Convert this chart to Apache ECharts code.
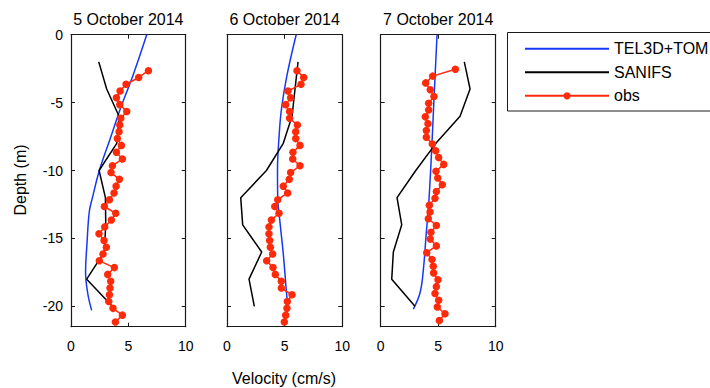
<!DOCTYPE html>
<html><head><meta charset="utf-8">
<script src="https://cdn.jsdelivr.net/npm/echarts@6/dist/echarts.min.js"></script>
<style>html,body{margin:0;padding:0;background:#fff}#c{width:710px;height:388px}</style>
</head><body><div id="c"></div>
<script>
const panelTitles = ['5 October 2014', '6 October 2014', '7 October 2014'];
const seriesNames = ['TEL3D+TOM', 'SANIFS', 'obs'];
const xTicks = [0, 5, 10];
const yTicks = [0, -5, -10, -15, -20];

// TEL3D+TOM model profiles
const telDepth1 = [0, -3, -5.5, -7.7, -10, -12, -13, -15.3, -17.5, -19, -20.3];
const telVel1   = [6.6, 5.4, 4.28, 3.4, 2.47, 1.87, 1.6, 1.4, 1.27, 1.45, 1.8];
const telDepth2 = [0, -3, -5.5, -7.7, -10, -12, -14, -16.3, -18.8, -20.3];
const telVel2   = [6.0, 5.2, 4.72, 4.5, 4.38, 4.4, 4.62, 4.9, 5.14, 5.3];
const telDepth3 = [0, -4.8, -8.5, -12.1, -14.85, -17.3, -19, -20.2];
const telVel3   = [4.9, 4.63, 4.43, 4.2, 3.94, 3.71, 3.42, 2.84];

// SANIFS model profiles
const sanDepth = [-2, -4, -6, -8, -10, -12, -14, -16, -18, -20];
const sanVel1  = [2.42, 3.11, 4.19, 3.99, 2.45, 3.0, 3.03, 2.9, 1.37, 3.6];
const sanVel2  = [6.16, 5.9, 5.64, 4.88, 3.42, 1.19, 1.36, 3.01, 1.91, 2.37];
const sanVel3  = [7.27, 7.77, 6.9, 4.8, 3.05, 1.42, 1.83, 1.1, 0.96, 2.98];

// Observations
const obsDepth12 = [-2.65,-3.15,-3.65,-4.15,-4.65,-5.15,-5.65,-6.15,-6.65,-7.15,-7.65,-8.15,-8.65,-9.15,-9.65,-10.15,-10.65,-11.15,-11.65,-12.15,-12.65,-13.15,-13.65,-14.15,-14.65,-15.15,-15.65,-16.15,-16.65,-17.15,-17.65,-18.15,-18.65,-19.15,-19.65,-20.15,-20.65,-21.15];
const obsDepth3 = [-2.55,-3.05,-3.55,-4.05,-4.55,-5.05,-5.55,-6.05,-6.55,-7.05,-7.55,-8.05,-8.55,-9.05,-9.55,-10.05,-10.55,-11.05,-11.55,-12.05,-12.55,-13.05,-13.55,-14.05,-14.55,-15.05,-15.55,-16.05,-16.55,-17.05,-17.55,-18.05,-18.55,-19.05,-19.55,-20.05,-20.55,-21.05];
const obsVel1 = [6.75,5.9,4.8,4.28,3.96,4.25,4.86,4.34,4.25,4.19,4.04,4.39,3.96,4.48,3.61,3.49,4.22,3.93,3.75,3.35,2.91,3.9,3.52,2.94,2.44,2.88,3.08,2.79,2.47,3.78,3.2,3.46,3.4,3.35,3.29,3.66,4.48,3.87];
const obsVel2 = [6.07,6.65,6.42,5.29,5.52,5.09,5.43,5.43,6.1,5.96,5.96,6.33,5.72,5.7,6.33,5.52,5.4,4.88,5.26,4.4,4.14,4.51,3.85,3.64,3.64,3.7,3.76,3.96,3.44,3.99,4.19,4.71,4.71,5.64,5.23,5.2,5.09,4.97];
const obsVel3 = [6.49,4.52,3.91,4.31,4.63,4.17,4.17,3.88,4.11,3.97,3.97,4.49,4.78,5.04,5.48,4.81,4.96,5.36,4.84,4.72,4.23,4.29,4.14,4.84,4.37,4.31,4.84,4.0,4.46,4.57,4.6,4.98,4.84,4.72,5.04,4.92,5.59,5.1];

const FONT = 'Liberation Sans, Arial, sans-serif';
const colors = ['#1638f5', '#000000', '#ff2a0a'];
const pair = (xs, ds) => xs.map((v, i) => [v, ds[i]]);

const panels = [
  {left: 71, width: 114.7, tel: pair(telVel1, telDepth1), san: pair(sanVel1, sanDepth), obs: pair(obsVel1, obsDepth12)},
  {left: 227, width: 115.3, tel: pair(telVel2, telDepth2), san: pair(sanVel2, sanDepth), obs: pair(obsVel2, obsDepth12)},
  {left: 380.7, width: 115, tel: pair(telVel3, telDepth3), san: pair(sanVel3, sanDepth), obs: pair(obsVel3, obsDepth3)}
];

const grid = [], xAxis = [], yAxis = [], series = [], graphic = [];
const axisLine = {show: true, onZero: false, lineStyle: {color: '#1a1a1a', width: 1.2}};
panels.forEach((p, k) => {
  grid.push({left: p.left, width: p.width, top: 34.7, height: 292});
  const xb = {gridIndex: k, type: 'value', min: 0, max: 10, interval: 5,
    axisLine, splitLine: {show: false},
    axisTick: {show: true, inside: true, length: 4, lineStyle: {color: '#1a1a1a'}},
    axisLabel: {show: true, margin: 12, fontSize: 14, color: '#000', fontFamily: FONT}};
  xAxis.push(xb);
  xAxis.push(Object.assign({}, xb, {position: 'top', axisLabel: {show: false}}));
  const yb = {gridIndex: k, type: 'value', min: -21.5, max: 0,
    axisLine, splitLine: {show: false},
    axisTick: {show: true, inside: true, length: 4, customValues: yTicks, lineStyle: {color: '#1a1a1a'}},
    axisLabel: {show: k === 0, customValues: yTicks, margin: 8, fontSize: 14, color: '#000', fontFamily: FONT}};
  yAxis.push(yb);
  yAxis.push(Object.assign({}, yb, {position: 'right', axisLabel: {show: false, customValues: yTicks}}));
  const xi = 2 * k, yi = 2 * k;
  series.push({name: seriesNames[0], type: 'line', xAxisIndex: xi, yAxisIndex: yi, data: p.tel,
    smooth: 0.4, symbol: 'none', lineStyle: {color: colors[0], width: 1.5}, itemStyle: {color: colors[0]}, z: 2});
  series.push({name: seriesNames[1], type: 'line', xAxisIndex: xi, yAxisIndex: yi, data: p.san,
    symbol: 'none', lineStyle: {color: colors[1], width: 1.5}, itemStyle: {color: colors[1]}, z: 3});
  series.push({name: seriesNames[2], type: 'line', xAxisIndex: xi, yAxisIndex: yi, data: p.obs,
    symbol: 'circle', symbolSize: 7.5, showAllSymbol: true,
    lineStyle: {color: colors[2], width: 1.5}, itemStyle: {color: colors[2]}, z: 4});
  graphic.push({type: 'text', x: p.left + p.width / 2, y: 19, silent: true,
    style: {text: panelTitles[k], font: '16px ' + FONT, fill: '#000', textAlign: 'center', textVerticalAlign: 'middle'}});
});

graphic.push({type: 'text', x: 20, y: 180, rotation: Math.PI / 2, silent: true,
  style: {text: 'Depth (m)', font: '16px ' + FONT, fill: '#000', textAlign: 'center', textVerticalAlign: 'middle'}});
graphic.push({type: 'text', x: 284, y: 378, silent: true,
  style: {text: 'Velocity (cm/s)', font: '16px ' + FONT, fill: '#000', textAlign: 'center', textVerticalAlign: 'middle'}});
graphic.push({type: 'rect', z: -1, silent: true, shape: {x: 507.5, y: 32.5, width: 230, height: 78.5},
  style: {fill: '#fff', stroke: '#1a1a1a', lineWidth: 1}});

const lineIcon = 'path://M0,0H84V2H0Z';
const chart = echarts.init(document.getElementById('c'), null, {renderer: 'svg'});
chart.setOption({
  animation: false,
  backgroundColor: '#fff',
  grid, xAxis, yAxis, series, graphic,
  legend: {
    data: [{name: seriesNames[0], icon: lineIcon}, {name: seriesNames[1], icon: lineIcon}, {name: seriesNames[2]}],
    orient: 'vertical', left: 524, top: 40.8, padding: 0, itemWidth: 84, itemHeight: 9,
    itemGap: 7.5, selectedMode: false,
    lineStyle: {width: 2},
    textStyle: {fontSize: 16, color: '#000', fontFamily: FONT}}
});
</script></body></html>
